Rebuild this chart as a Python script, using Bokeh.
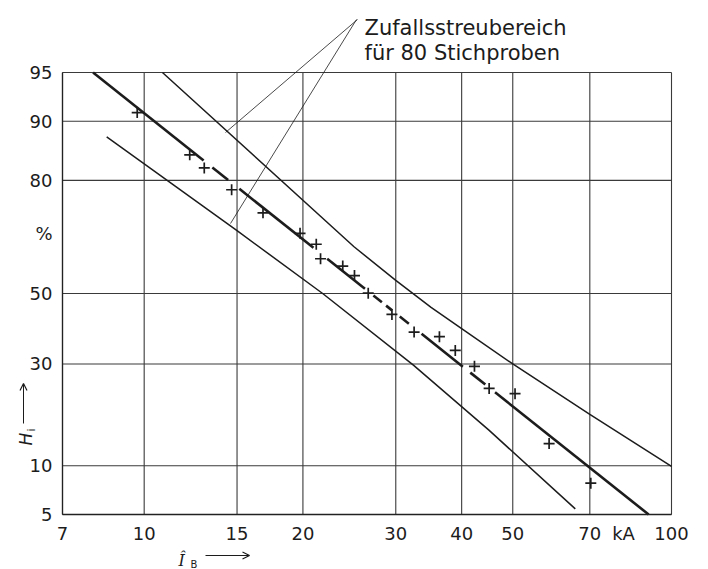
import math
from statistics import NormalDist
from bokeh.plotting import figure
from bokeh.models import (Range1d, FixedTicker, Label, Arrow, OpenHead,
                          CustomJSTickFormatter, LogAxis, LinearAxis)
from bokeh.embed import file_html
from bokeh.resources import INLINE

ND = NormalDist()


def z(p):
    return ND.inv_cdf(p / 100.0)


# ---------------- data ----------------
current_kA = [9.7, 12.2, 13.0, 14.65, 16.8, 19.75, 21.2, 21.6, 23.8, 25.05,
              26.6, 29.5, 32.5, 36.3, 38.9, 42.3, 45.1, 50.5, 58.6, 70.3]
freq_pct = [91.1, 84.9, 82.5, 78.0, 72.6, 67.3, 64.3, 60.2, 58.1, 55.3,
            50.1, 43.8, 38.7, 37.4, 33.6, 29.4, 24.0, 22.8, 13.2, 7.9]

fit_kA = [8.0, 90.5]
fit_pct = [95.0, 5.0]
# visible pieces of the fitted line (it is interrupted around the points)
fit_pieces_pct = [(95, 83.9), (82.6, 80.1), (78.2, 63.3), (60.2, 51.4),
                  (49.4, 47.4), (46.4, 45.0), (43.2, 41.1), (38.2, 29.3),
                  (27.8, 24.9), (23.1, 5)]

upper_kA = [10.83, 25.0, 30.0, 35.0, 40.0, 50.0, 70.0, 100.0]
upper_pct = [95, 63.6, 53.9, 45.9, 39.7, 30, 18.4, 9.9]
lower_kA = [8.49, 15.0, 21.8, 32.4, 45.0, 65.7]
lower_pct = [87.8, 68.0, 50, 29.7, 15.5, 5.45]

x_ticks = [7, 10, 15, 20, 30, 40, 50, 70, 100]
x_tick_labels = ["7", "10", "15", "20", "30", "40", "50", "70", "100"]
y_ticks_pct = [5, 10, 30, 50, 80, 90, 95]
y_tick_labels = ["5", "10", "30", "50", "80", "90", "95"]
x_unit = "kA"
y_unit = "%"

# ---------------- geometry ----------------
X0, X1 = 7.0, 100.0
Z0, Z1 = z(5), z(95)
FL, FT, FW, FH = 62, 72, 609, 442   # chart box in page pixels
W, H = 700, 569


def ax_(px):
    return 10 ** (math.log10(X0) + (px - FL) / FW * math.log10(X1 / X0))


def az(py):
    return Z1 - (py - FT) / FH * (Z1 - Z0)


p = figure(width=W, height=H, x_axis_type="log", title=None,
           x_range=Range1d(ax_(0), ax_(W)), y_range=Range1d(az(H), az(0)),
           x_axis_location=None, y_axis_location=None,
           output_backend="svg", toolbar_location=None,
           min_border_left=0, min_border_right=0,
           min_border_top=0, min_border_bottom=0)
p.background_fill_color = "white"
p.border_fill_color = "white"
p.outline_line_color = None
p.grid.visible = False

INK = "#1c1c1c"
GRID = "#3a3a3a"
FONT = "DejaVu Sans"

yt = [z(v) for v in y_ticks_pct]

# grid lines (at the tick values)
p.segment(x0=x_ticks, y0=[Z0] * len(x_ticks), x1=x_ticks, y1=[Z1] * len(x_ticks),
          line_color=GRID, line_width=1.1)
p.segment(x0=[X0] * len(yt), y0=yt, x1=[X1] * len(yt), y1=yt,
          line_color=GRID, line_width=1.1)

# axes
xpos = x_ticks + [ax_(623)]
xlab = x_tick_labels + [x_unit]
ypos = yt + [az(233)]
ylab = y_tick_labels + [y_unit]
code = """
let best = 0, d = 1e99;
for (let i = 0; i < tpos.length; i++) {
  const dd = Math.abs(tpos[i] - tick);
  if (dd < d) { d = dd; best = i; }
}
return tlab[best];
"""
xa = LogAxis(fixed_location=Z0, bounds=(X0, X1),
             ticker=FixedTicker(ticks=xpos, minor_ticks=[]),
             formatter=CustomJSTickFormatter(args=dict(tpos=xpos, tlab=xlab), code=code))
ya = LinearAxis(fixed_location=X0, bounds=(Z0, Z1),
                ticker=FixedTicker(ticks=ypos, minor_ticks=[]),
                formatter=CustomJSTickFormatter(args=dict(tpos=ypos, tlab=ylab), code=code))
for ax in (xa, ya):
    ax.major_tick_in = 0
    ax.major_tick_out = 0
    ax.minor_tick_in = 0
    ax.minor_tick_out = 0
    ax.axis_line_color = "#222222"
    ax.axis_line_width = 1.3
    ax.major_label_text_font = FONT
    ax.major_label_text_font_size = "18px"
    ax.major_label_text_color = INK
xa.major_label_standoff = 8
ya.major_label_standoff = 10
p.add_layout(xa, "below")
p.add_layout(ya, "left")

# band lines
p.line(upper_kA, [z(v) for v in upper_pct], line_color=INK, line_width=1.5)
p.line(lower_kA, [z(v) for v in lower_pct], line_color=INK, line_width=1.5)

# fitted line (pieces)
lx0, lx1 = math.log10(fit_kA[0]), math.log10(fit_kA[1])
zf0, zf1 = z(fit_pct[0]), z(fit_pct[1])


def fit_x(pct):
    t = (z(pct) - zf0) / (zf1 - zf0)
    return 10 ** (lx0 + t * (lx1 - lx0))


xs = [[fit_x(a), fit_x(b)] for a, b in fit_pieces_pct]
ys = [[z(a), z(b)] for a, b in fit_pieces_pct]
p.multi_line(xs, ys, line_color=INK, line_width=2.6)

# data points
p.scatter(current_kA, [z(v) for v in freq_pct], marker="cross", size=11,
          line_color=INK, line_width=1.7)


# ---------------- annotations ----------------
def lab(text, px, py, size, align="left", baseline="alphabetic", angle=0.0,
        style="normal", font=FONT):
    p.add_layout(Label(x=ax_(px), y=az(py), text=text, text_font=font,
                       text_font_size=size, text_align=align,
                       text_baseline=baseline, angle=angle,
                       text_font_style=style, text_color=INK))


lab("Zufallsstreubereich", 364, 27, "21px")
lab("für 80 Stichproben", 364, 52, "21px")
lab("H", 25, 445, "17px", angle=math.pi / 2, style="italic")
lab("i", 31, 431, "11px", angle=math.pi / 2)
lab("Î", 178, 560, "16px", style="italic", font="DejaVu Serif")
lab("B", 190, 564, "10px")

# leader lines
lead = [(357, 19, 225, 132), (356, 19, 230, 223)]
p.segment(x0=[ax_(a[0]) for a in lead], y0=[az(a[1]) for a in lead],
          x1=[ax_(a[2]) for a in lead], y1=[az(a[3]) for a in lead],
          line_color=INK, line_width=0.8)

# axis arrows
for (sx, sy, ex, ey) in [(205, 555, 249, 555), (23, 423, 23, 383)]:
    p.add_layout(Arrow(end=OpenHead(size=7, line_color=INK, line_width=1.2),
                       x_start=ax_(sx), y_start=az(sy),
                       x_end=ax_(ex), y_end=az(ey),
                       line_color=INK, line_width=1.0))

open("out.html", "w").write(file_html(p, INLINE))
